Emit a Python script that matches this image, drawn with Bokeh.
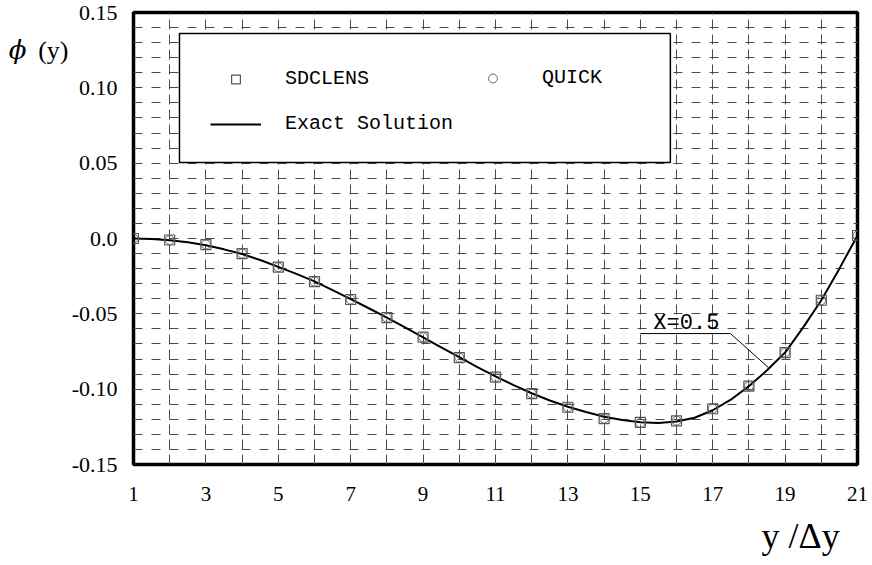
from bokeh.plotting import figure
from bokeh.models import (Range1d, FixedTicker, CustomJSTickFormatter, Legend, LegendItem,
                          BoxAnnotation, Label, LinearAxis)
from bokeh.embed import file_html
from bokeh.resources import INLINE

# ---- data ----
nodes = list(range(1, 22))
sdclens = [0.0, -0.001, -0.004, -0.010, -0.019, -0.0286, -0.0405, -0.0525, -0.0655, -0.079,
           -0.092, -0.103, -0.112, -0.1195, -0.122, -0.121, -0.113, -0.098, -0.0757, -0.041, 0.002]
quick = [0.0, -0.001, -0.004, -0.010, -0.019, -0.0286, -0.0405, -0.0525, -0.0655, -0.079,
         -0.092, -0.103, -0.112, -0.1195, -0.1225, -0.121, -0.113, -0.098, -0.0757, -0.041, 0.002]
exact_x = [1, 1.5, 2, 2.5, 3, 3.5, 4, 4.5, 5, 5.5, 6, 6.5, 7, 7.5, 8, 8.5, 9, 9.5, 10, 10.5,
           11, 11.5, 12, 12.5, 13, 13.5, 14, 14.5, 15, 15.5, 16, 16.5, 17, 17.5, 18, 18.5,
           19, 19.5, 20, 20.5, 21]
exact_y = [0.0, -0.0003, -0.0012, -0.0025, -0.0045, -0.0072, -0.0103, -0.0143, -0.0188, -0.0235,
           -0.0285, -0.0343, -0.0402, -0.0463, -0.0525, -0.059, -0.0656, -0.0722, -0.0788, -0.0853,
           -0.0915, -0.0973, -0.1027, -0.1075, -0.1117, -0.1152, -0.1183, -0.1205, -0.1220, -0.1225,
           -0.1215, -0.1190, -0.1140, -0.1070, -0.0980, -0.0875, -0.0757, -0.0590, -0.0410, -0.0200, 0.002]
x_ticks = [1, 3, 5, 7, 9, 11, 13, 15, 17, 19, 21]
y_ticks = [-0.15, -0.10, -0.05, 0.0, 0.05, 0.10, 0.15]
y_tick_labels = ["-0.15", "-0.10", "-0.05", "0.0", "0.05", "0.10", "0.15"]
grid_x = list(range(1, 22))
grid_y = [round(-0.15 + 0.01 * i, 2) for i in range(31)]
annot_text = "X=0.5"
leader_x = [15.0, 17.49, 18.54]
leader_y = [-0.0631, -0.0631, -0.0857]
y_title_phi = "ϕ"
y_title_rest = "(y)"
x_title = "y /Δy"

p = figure(width=872, height=565, output_backend="svg", toolbar_location=None,
           x_range=Range1d(1, 21), y_range=Range1d(-0.15, 0.15),
           min_border_left=133, min_border_right=15, min_border_top=12, min_border_bottom=101)
p.background_fill_color = "white"
p.border_fill_color = "white"
p.outline_line_color = "black"
p.outline_line_width = 3.5


def plain_axis(ax, font, size, standoff, style="normal"):
    ax.axis_line_color = None
    ax.major_tick_line_color = None
    ax.minor_tick_line_color = None
    ax.major_tick_out = 0
    ax.major_tick_in = 0
    ax.minor_tick_out = 0
    ax.minor_tick_in = 0
    ax.major_label_text_font = font
    ax.major_label_text_font_size = size
    ax.major_label_text_font_style = style
    ax.major_label_text_color = "black"
    ax.major_label_standoff = standoff


plain_axis(p.xaxis[0], "Liberation Serif", "21px", 22)
plain_axis(p.yaxis[0], "Liberation Serif", "22px", 16)
p.xaxis.ticker = FixedTicker(ticks=x_ticks)
p.yaxis.ticker = FixedTicker(ticks=y_ticks)
p.yaxis.formatter = CustomJSTickFormatter(args=dict(vals=y_ticks, labels=y_tick_labels), code="""
for (let i = 0; i < vals.length; i++) { if (Math.abs(vals[i] - tick) < 1e-9) return labels[i]; }
return '';
""")

# axis titles built as extra label-only axes (outside the frame)
ya2 = LinearAxis(ticker=FixedTicker(ticks=[0.1248]),
                 formatter=CustomJSTickFormatter(args=dict(t=y_title_rest), code="return t;"))
plain_axis(ya2, "Liberation Serif", "26px", 0)
p.add_layout(ya2, "left")
ya3 = LinearAxis(ticker=FixedTicker(ticks=[0.1248]),
                 formatter=CustomJSTickFormatter(args=dict(t=y_title_phi), code="return t;"))
plain_axis(ya3, "DejaVu Serif", "26px", 9, style="italic")
p.add_layout(ya3, "left")
xa2 = LinearAxis(ticker=FixedTicker(ticks=[19.43]),
                 formatter=CustomJSTickFormatter(args=dict(t=x_title), code="return t;"))
plain_axis(xa2, "Liberation Serif", "36px", 12)
p.add_layout(xa2, "below")

# grid
p.xgrid.ticker = FixedTicker(ticks=grid_x)
p.ygrid.ticker = FixedTicker(ticks=grid_y)
p.xgrid.grid_line_color = "#4a4a4a"
p.xgrid.grid_line_width = 1
p.xgrid.grid_line_dash = "10 5"
p.ygrid.grid_line_color = "#4a4a4a"
p.ygrid.grid_line_width = 1
p.ygrid.grid_line_dash = "9 9"

# data
line_r = p.line(exact_x, exact_y, line_color="black", line_width=2)
sq_r = p.scatter(nodes, sdclens, marker="square", size=10, fill_color=None,
                 line_color="#555555", line_width=1.2)
ci_r = p.scatter(nodes, quick, marker="circle", size=9, fill_color=None,
                 line_color="#666666", line_width=1)

# annotation X=0.5
p.line(leader_x, leader_y, line_color="black", line_width=1)
p.add_layout(Label(x=15.36, y=-0.0565, text=annot_text, text_font="Liberation Mono",
                   text_font_size="22px", text_color="black", text_baseline="alphabetic"))

# legend box
p.add_layout(BoxAnnotation(left=2.27, right=15.83, top=0.1361, bottom=0.0505,
                           fill_color="white", fill_alpha=1.0,
                           line_color="black", line_width=1.5, line_alpha=1.0))

common = dict(background_fill_alpha=0, border_line_alpha=0, padding=0, margin=0,
              glyph_width=51, glyph_height=22, label_height=22, spacing=22,
              label_standoff=24, label_text_font="Liberation Mono",
              label_text_font_size="20px", label_text_color="black")
leg1 = Legend(items=[LegendItem(label="SDCLENS", renderers=[sq_r]),
                     LegendItem(label="Exact Solution", renderers=[line_r])],
              location=(77, 329), **common)
leg2 = Legend(items=[LegendItem(label="QUICK", renderers=[ci_r])],
              location=(334, 375), **common)
p.add_layout(leg1)
p.add_layout(leg2)

open("out.html", "w").write(file_html(p, INLINE))
